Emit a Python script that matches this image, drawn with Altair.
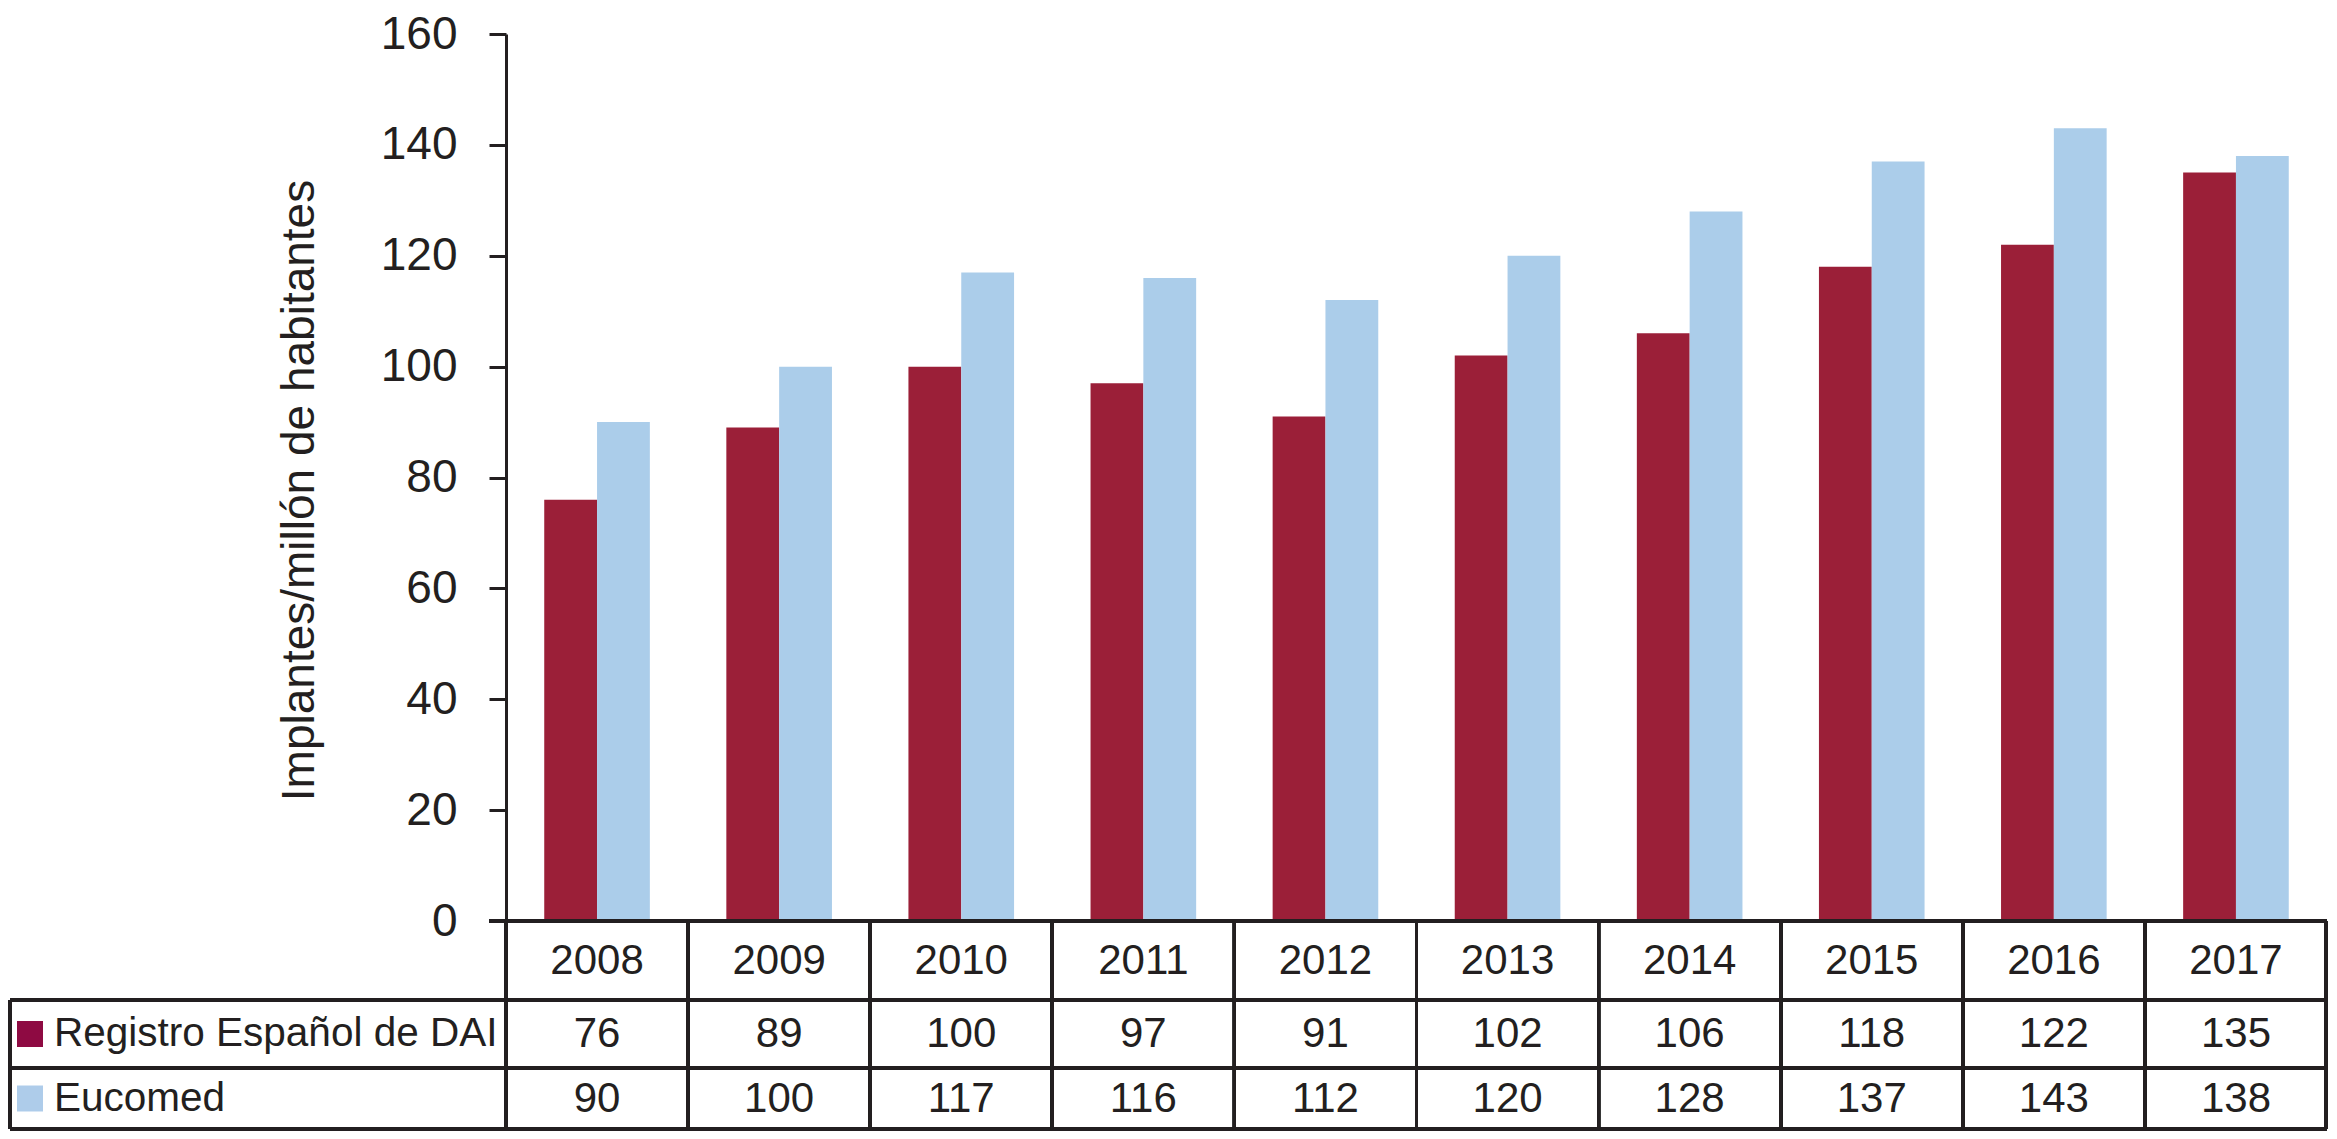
import altair as alt
import pandas as pd

years = ["2008", "2009", "2010", "2011", "2012", "2013", "2014", "2015", "2016", "2017"]
registro = [76, 89, 100, 97, 91, 102, 106, 118, 122, 135]
eucomed = [90, 100, 117, 116, 112, 120, 128, 137, 143, 138]
series = ["Registro Español de DAI", "Eucomed"]
bar_colors = ["#9B1F38", "#ABCDEA"]
legend_colors = ["#8E0A42", "#AECCEA"]
y_ticks = [0, 20, 40, 60, 80, 100, 120, 140, 160]

FONT = "Liberation Sans"
INK = "#231F20"
W, H = 1821, 887
step = W / len(years)

rows = []
for i, y in enumerate(years):
    rows.append({"year": y, "serie": series[0], "valor": registro[i]})
    rows.append({"year": y, "serie": series[1], "valor": eucomed[i]})
df = pd.DataFrame(rows)

xscale = alt.Scale(domain=years, paddingInner=0.42, paddingOuter=0.21)

bars = alt.Chart(df).mark_bar().encode(
    x=alt.X("year:N", scale=xscale, axis=None),
    xOffset=alt.XOffset("serie:N", sort=series),
    y=alt.Y(
        "valor:Q",
        scale=alt.Scale(domain=[0, 160], nice=False),
        axis=alt.Axis(
            values=y_ticks,
            title="Implantes/millón de habitantes",
            titleFont=FONT,
            titleFontSize=46,
            titleFontWeight="normal",
            titleColor=INK,
            titleX=-193,
            titleY=456,
            titleAngle=270,
            titleAlign="center",
            titleBaseline="alphabetic",
            labelFont=FONT,
            labelFontSize=46,
            labelColor=INK,
            labelPadding=32,
            tickSize=17,
            tickWidth=3,
            tickColor=INK,
            domainWidth=3,
            domainColor=INK,
            grid=False,
        ),
    ),
    color=alt.Color("serie:N", scale=alt.Scale(domain=series, range=bar_colors), legend=None),
)

# table geometry (plot coordinates)
y_top, y_h, y_r2, y_bot = H, 966, 1034, 1095
left_edge = -496
c_head, c_r1, c_r2 = (y_top + y_h) / 2, (y_h + y_r2) / 2, (y_r2 + y_bot) / 2

line_kw = dict(color=INK, strokeWidth=3)
layers = [bars]

# horizontal lines
layers.append(alt.Chart(df).mark_rule(**line_kw).encode(
    x=alt.value(-17), x2=alt.value(W), y=alt.value(y_top)))
for yy in [y_h, y_r2, y_bot]:
    layers.append(alt.Chart(df).mark_rule(**line_kw).encode(
        x=alt.value(left_edge), x2=alt.value(W), y=alt.value(yy)))
# vertical lines
for i in range(len(years) + 1):
    layers.append(alt.Chart(df).mark_rule(**line_kw).encode(
        x=alt.value(min(i * step, W - 1)), y=alt.value(y_top), y2=alt.value(y_bot)))
layers.append(alt.Chart(df).mark_rule(**line_kw).encode(
    x=alt.value(left_edge), y=alt.value(y_h), y2=alt.value(y_bot)))

text_kw = dict(font=FONT, fontSize=42, color=INK, baseline="middle")

year_df = pd.DataFrame({"year": years})
layers.append(alt.Chart(year_df).mark_text(align="center", **text_kw).encode(
    x=alt.X("year:N", scale=xscale), y=alt.value(c_head), text="year:N"))

reg_df = pd.DataFrame({"year": years, "valor": registro})
euc_df = pd.DataFrame({"year": years, "valor": eucomed})
layers.append(alt.Chart(reg_df).mark_text(align="center", **text_kw).encode(
    x=alt.X("year:N", scale=xscale), y=alt.value(c_r1), text="valor:Q"))
layers.append(alt.Chart(euc_df).mark_text(align="center", **text_kw).encode(
    x=alt.X("year:N", scale=xscale), y=alt.value(c_r2), text="valor:Q"))

# row labels with colour squares
for s, col, cy in [(series[0], legend_colors[0], c_r1), (series[1], legend_colors[1], c_r2)]:
    lab_df = pd.DataFrame({"label": [s]})
    layers.append(alt.Chart(lab_df).mark_square(size=676, color=col, opacity=1, filled=True).encode(
        x=alt.value(-476), y=alt.value(cy)))
    layers.append(alt.Chart(lab_df).mark_text(align="left", font=FONT, fontSize=40.5, color=INK,
                                              baseline="middle").encode(
        x=alt.value(-452), y=alt.value(cy), text="label:N"))

chart = alt.layer(*layers).properties(
    width=W,
    height=H,
    autosize=alt.AutoSizeParams(type="none"),
    padding={"left": 498, "top": 26, "right": 2, "bottom": 210},
    background="white",
).configure_view(stroke=None)

chart.save("out.html", embed_options={"renderer": "svg", "actions": False})
